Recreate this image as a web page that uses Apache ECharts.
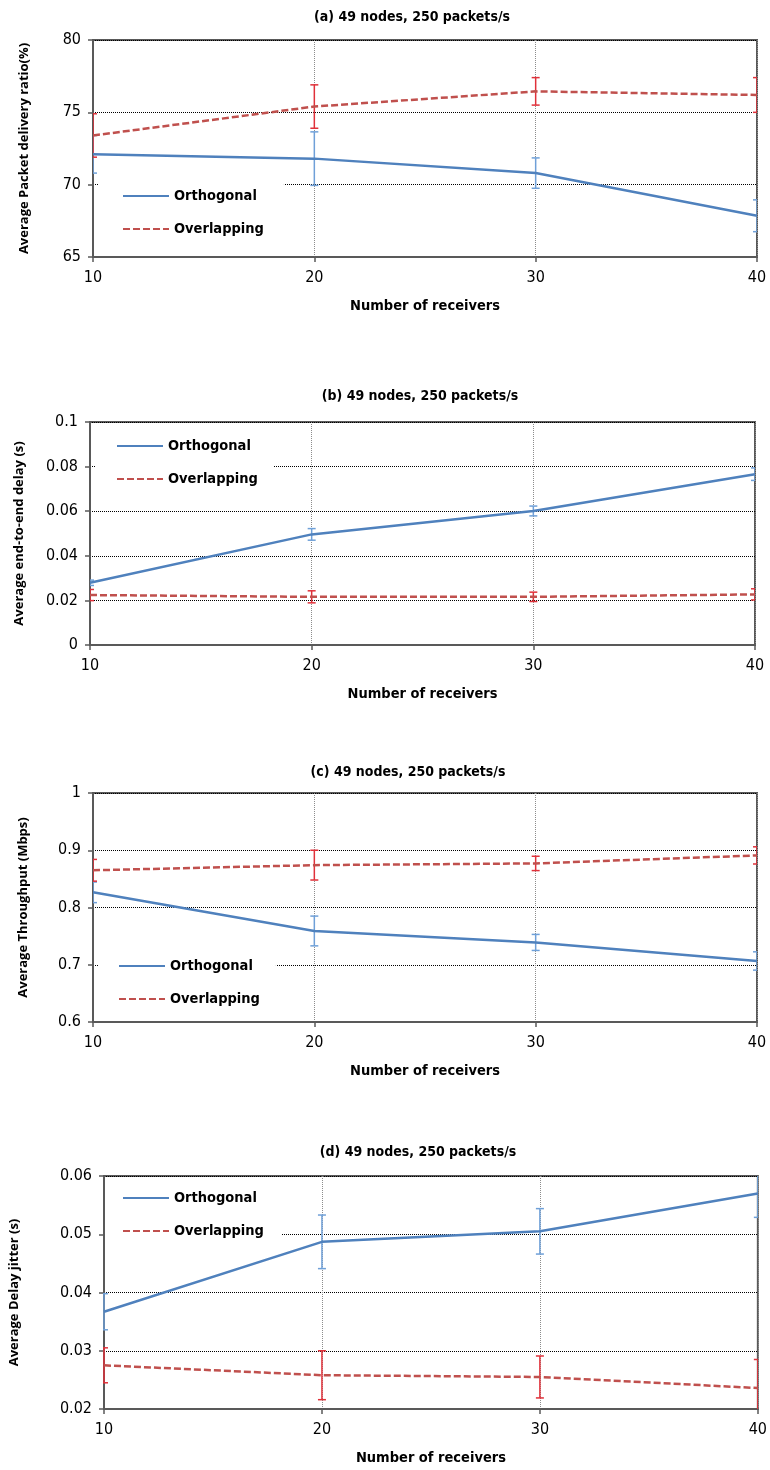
<!DOCTYPE html>
<html>
<head>
<meta charset="utf-8">
<script src="https://cdn.jsdelivr.net/npm/echarts@6/dist/echarts.min.js"></script>
<style>
  html, body { margin: 0; padding: 0; background: #fff; }
  #chart { width: 770px; height: 1470px; }
</style>
</head>
<body>
<div id="chart"></div>
<script>
const receivers = [10, 20, 30, 40]
const seriesNames = ['Orthogonal', 'Overlapping']
const panelTitles = ['(a) 49 nodes, 250 packets/s', '(b) 49 nodes, 250 packets/s', '(c) 49 nodes, 250 packets/s', '(d) 49 nodes, 250 packets/s']
const xAxisName = 'Number of receivers'
const yAxisNames = ['Average Packet delivery ratio(%)', 'Average end-to-end delay (s)', 'Average Throughput (Mbps)', 'Average Delay jitter (s)']
const yMin = [65, 0, 0.6, 0.02]
const yMax = [80, 0.1, 1, 0.06]
const yStep = [5, 0.02, 0.1, 0.01]

// (a) packet delivery ratio
const pdrOrth = [72.1, 71.8, 70.8, 67.85]
const pdrOrthErr = [1.3, 1.85, 1.05, 1.1]
const pdrOver = [73.4, 75.4, 76.45, 76.2]
const pdrOverErr = [1.5, 1.5, 0.95, 1.2]
// (b) end-to-end delay
const delayOrth = [0.0279, 0.0496, 0.0601, 0.0766]
const delayOrthErr = [0.0012, 0.0026, 0.0022, 0.0028]
const delayOver = [0.0224, 0.0216, 0.0216, 0.0227]
const delayOverErr = [0.0025, 0.0027, 0.0021, 0.0025]
// (c) throughput
const tpOrth = [0.8265, 0.759, 0.739, 0.7066]
const tpOrthErr = [0.018, 0.026, 0.014, 0.016]
const tpOver = [0.865, 0.874, 0.877, 0.891]
const tpOverErr = [0.019, 0.026, 0.0125, 0.015]
// (d) delay jitter
const jitOrth = [0.0367, 0.0487, 0.0505, 0.057]
const jitOrthErr = [0.0031, 0.0046, 0.0039, 0.0041]
const jitOver = [0.0275, 0.0258, 0.0255, 0.0236]
const jitOverErr = [0.003, 0.0042, 0.0036, 0.0049]

const panels = [
  { orth: pdrOrth, orthErr: pdrOrthErr, over: pdrOver, overErr: pdrOverErr },
  { orth: delayOrth, orthErr: delayOrthErr, over: delayOver, overErr: delayOverErr },
  { orth: tpOrth, orthErr: tpOrthErr, over: tpOver, overErr: tpOverErr },
  { orth: jitOrth, orthErr: jitOrthErr, over: jitOver, overErr: jitOverErr }
]

// layout, in px
const grids = [
  { left: 93, top: 40, width: 664, height: 217 },
  { left: 90, top: 422, width: 665, height: 223 },
  { left: 93, top: 793, width: 664, height: 229 },
  { left: 100, top: 1176, width: 662, height: 233 }
]
const titlePos = [[412, 17], [420, 396], [408, 772], [418, 1152]]
const yNameGap = [62, 64, 63, 83]
const legendTop = [183, 433, 953, 1185]
const legendLine = [122, 116, 118, 122]
const legendPadRight = [20, 16, 16, 18]

const BLUE = '#4F81BD'
const RED = '#C0504D'
const AXIS = '#595959'
const TICK_FONT = '"DejaVu Sans Condensed", sans-serif'
const BOLD_FONT = '"DejaVu Sans Condensed", sans-serif'

function errorSeries(i, values, errs, color) {
  return {
    type: 'custom',
    xAxisIndex: i,
    yAxisIndex: i,
    clip: true,
    z: 1,
    silent: true,
    data: values.map((v, k) => [receivers[k], v - errs[k], v + errs[k]]),
    renderItem(params, api) {
      const x = api.value(0)
      const lo = api.coord([x, api.value(1)])
      const hi = api.coord([x, api.value(2)])
      const w = 4
      const style = { stroke: color, lineWidth: 1.5 }
      return {
        type: 'group',
        children: [
          { type: 'line', shape: { x1: hi[0], y1: hi[1], x2: lo[0], y2: lo[1] }, style },
          { type: 'line', shape: { x1: hi[0] - w, y1: hi[1], x2: hi[0] + w, y2: hi[1] }, style },
          { type: 'line', shape: { x1: lo[0] - w, y1: lo[1], x2: lo[0] + w, y2: lo[1] }, style }
        ]
      }
    }
  }
}

const series = []
panels.forEach((p, i) => {
  series.push(errorSeries(i, p.orth, p.orthErr, '#6FA0D8'))
  series.push(errorSeries(i, p.over, p.overErr, '#E0313A'))
  series.push({
    name: seriesNames[0], type: 'line', xAxisIndex: i, yAxisIndex: i, z: 3,
    data: p.orth.map((v, k) => [receivers[k], v]),
    symbol: 'none', color: BLUE, lineStyle: { color: BLUE, width: 2.5 }
  })
  series.push({
    name: seriesNames[1], type: 'line', xAxisIndex: i, yAxisIndex: i, z: 3,
    data: p.over.map((v, k) => [receivers[k], v]),
    symbol: 'none', color: RED, lineStyle: { color: RED, width: 2.5, type: [7, 3] }
  })
})

const chart = echarts.init(document.getElementById('chart'))
chart.setOption({
  animation: false,
  backgroundColor: '#fff',
  graphic: panelTitles.map((t, i) => ({
    type: 'text', x: titlePos[i][0], y: titlePos[i][1],
    style: { text: t, textAlign: 'center', textVerticalAlign: 'middle', font: 'bold 14px ' + BOLD_FONT, fill: '#000' }
  })),
  grid: grids.map((g) => ({ ...g, show: true, borderColor: AXIS, borderWidth: 2 })),
  legend: grids.map((g, i) => ({
    data: seriesNames,
    orient: 'vertical',
    left: g.left + 6,
    top: legendTop[i],
    padding: [4, legendPadRight[i], 4, legendLine[i] - g.left - 6],
    itemWidth: 46,
    itemHeight: 14,
    itemGap: 15,
    backgroundColor: '#fff',
    selectedMode: false,
    itemStyle: { opacity: 0 },
    textStyle: { fontFamily: BOLD_FONT, fontWeight: 'bold', fontSize: 14.5, color: '#000', lineHeight: 18 }
  })),
  xAxis: grids.map((g, i) => ({
    type: 'value', gridIndex: i, min: 10, max: 40, interval: 10,
    name: xAxisName, nameLocation: 'middle', nameGap: 42,
    nameTextStyle: { fontFamily: BOLD_FONT, fontWeight: 'bold', fontSize: 14.5, color: '#000' },
    axisLine: { show: true, onZero: false, lineStyle: { color: AXIS, width: 2 } },
    axisTick: { show: true, length: 5, lineStyle: { color: AXIS, width: 1.5 } },
    axisLabel: { margin: 13, color: '#000', fontFamily: TICK_FONT, fontSize: 16 },
    splitLine: { show: true, lineStyle: { color: '#8c8c8c', type: 'dotted', width: 1 } }
  })),
  yAxis: grids.map((g, i) => ({
    type: 'value', gridIndex: i, min: yMin[i], max: yMax[i], interval: yStep[i],
    name: yAxisNames[i], nameLocation: 'middle', nameGap: yNameGap[i], nameRotate: 90,
    nameTextStyle: { fontFamily: '"Open Sans", sans-serif', fontWeight: 'bold', fontSize: 13, color: '#000' },
    axisLine: { show: true, onZero: false, lineStyle: { color: AXIS, width: 2 } },
    axisTick: { show: true, length: 5, lineStyle: { color: AXIS, width: 1.5 } },
    axisLabel: { margin: 12, color: '#000', fontFamily: TICK_FONT, fontSize: 16 },
    splitLine: { show: true, lineStyle: { color: '#000', type: 'dotted', width: 1 } }
  })),
  series
})
</script>
</body>
</html>
